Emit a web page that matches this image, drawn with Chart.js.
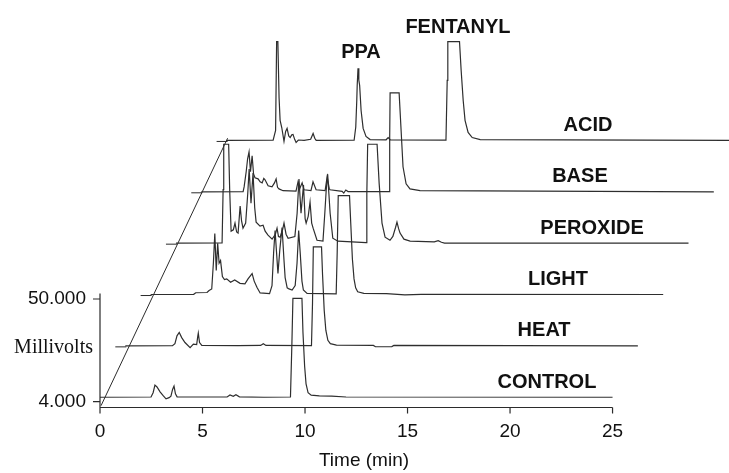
<!DOCTYPE html>
<html>
<head>
<meta charset="utf-8">
<script src="https://cdn.jsdelivr.net/npm/chart.js@4.4.1/dist/chart.umd.min.js"></script>
<style>
  html, body { margin: 0; padding: 0; background: #fff; }
  canvas { display: block; }
</style>
</head>
<body>
<canvas id="chromChart" width="729" height="473"></canvas>
<script>
// stress conditions, bottom to top
const traceNames = ['CONTROL', 'HEAT', 'LIGHT', 'PEROXIDE', 'BASE', 'ACID'];

// [time (min), signal (mV)]; flat tops are detector saturation
const controlTrace = [[0,6.0],[2.49,6.1],[2.59,8.0],[2.68,11.4],[2.78,10.6],[2.93,8.4],[3.07,6.8],[3.22,5.3],[3.37,5.8],[3.46,6.5],[3.54,9.5],[3.61,11.0],[3.68,7.5],[3.76,6.2],[5.0,6.1],[6.2,6.1],[6.34,7.0],[6.5,6.4],[6.63,7.1],[6.8,6.2],[8.0,6.0],[9.29,6.1],[9.36,30],[9.41,50.3],[9.85,50.3],[9.9,35],[9.98,20],[10.05,12],[10.15,8],[10.3,6.9],[10.7,6.6],[11.3,6.5],[12.0,6.1],[25.0,6.0]];
const heatTrace = [[0,6.0],[2.3,6.1],[2.42,7.0],[2.52,10.5],[2.63,12.0],[2.75,9.7],[2.91,7.5],[3.16,5.2],[3.32,6.8],[3.48,6.6],[3.53,10],[3.56,11.7],[3.62,7.5],[3.73,6.2],[5.5,6.1],[6.6,6.2],[6.73,7.0],[6.86,6.2],[9.08,6.1],[9.13,25],[9.17,50.3],[9.57,50.3],[9.62,38],[9.7,22],[9.78,13],[9.88,8.5],[10.0,7.0],[10.3,6.3],[12.1,6.2],[12.2,5.6],[13.0,5.7],[13.1,6.2],[25.0,6.0]];
const lightTrace = [[0,6.0],[2.1,6.1],[2.2,6.8],[2.75,6.9],[2.85,7.8],[2.98,8.5],[3.06,20],[3.13,33.3],[3.2,16.8],[3.27,28.9],[3.34,20],[3.41,21.2],[3.5,14],[3.6,12.7],[3.71,13],[3.9,11.5],[4.1,12.5],[4.36,11],[4.6,10.8],[4.75,13],[4.95,15.4],[5.05,12],[5.19,9.1],[5.34,6.7],[5.8,6.4],[5.92,10],[6.0,25],[6.07,34.7],[6.14,25],[6.21,15.4],[6.3,26],[6.41,36],[6.5,22],[6.56,13.6],[6.66,9],[6.75,8.5],[6.9,8],[7.05,10],[7.14,20],[7.22,34.7],[7.3,24],[7.38,12],[7.45,8],[7.63,6.5],[9.05,6.3],[9.1,25],[9.15,50.3],[9.7,50.3],[9.76,38],[9.84,22],[9.92,13],[10.0,9],[10.1,7.2],[10.4,6.5],[11.5,6.4],[12.4,5.8],[13.2,6.1],[25.0,6.0]];
const peroxideTrace = [[0,6.0],[2.25,6.1],[2.3,30],[2.33,50.3],[2.57,50.3],[2.62,30],[2.69,11.4],[2.8,12],[2.88,15],[2.96,11],[3.03,10.5],[3.13,22.6],[3.2,16],[3.27,12.7],[3.4,15],[3.5,28],[3.57,39.2],[3.66,23.9],[3.76,37.4],[3.84,22],[3.91,15.4],[4.1,13.6],[4.25,14],[4.35,11.4],[4.49,9.6],[4.69,7.8],[4.85,10],[4.93,12.7],[5.0,9],[5.08,8.7],[5.2,12],[5.27,15],[5.37,10],[5.47,8.2],[5.8,9],[5.91,19.4],[6.0,34.7],[6.1,19.4],[6.22,32],[6.3,17],[6.35,15],[6.45,18],[6.54,24.4],[6.62,15],[6.69,12.7],[6.88,7.3],[7.17,6.9],[7.26,19.4],[7.33,30],[7.4,36.9],[7.46,28],[7.52,19.4],[7.65,8.2],[7.9,6.9],[9.27,6.2],[9.31,28],[9.35,50.3],[9.81,50.3],[9.91,32.9],[10.05,15],[10.2,8.7],[10.44,7.3],[10.58,9],[10.71,13],[10.78,15.4],[10.86,12.5],[10.93,10.5],[11.12,7.8],[11.42,6.9],[12.6,6.6],[12.79,7.1],[12.95,6.4],[13.1,6.0],[25.0,6.0]];
const baseTrace = [[0,6.0],[2.04,6.1],[2.09,8.2],[2.19,15],[2.26,20.8],[2.33,23.9],[2.4,15],[2.48,22.1],[2.55,14],[2.62,12.3],[2.77,11.8],[2.87,10.5],[2.97,10],[3.05,12],[3.11,11.4],[3.26,8.7],[3.45,8.2],[3.57,10],[3.65,11.8],[3.72,8.0],[3.79,7.3],[3.99,6.5],[4.62,6.3],[4.72,10.5],[4.82,7.8],[4.92,10],[5.01,6.9],[5.35,6.5],[5.45,10.5],[5.6,6.9],[6.04,6.5],[6.14,12.7],[6.24,7.5],[6.28,6.9],[6.87,6.2],[6.95,5.4],[7.05,6.8],[7.16,6.1],[9.16,6.1],[9.19,30],[9.21,50.3],[9.65,50.3],[9.75,32.9],[9.84,17.2],[9.99,9.6],[10.18,7.3],[10.67,6.5],[25.0,6.0]];
const acidTrace = [[0,6.0],[2.27,6.1],[2.39,10.5],[2.44,50.3],[2.5,50.3],[2.56,25],[2.61,15],[2.69,11.8],[2.8,5.6],[2.88,10],[2.95,11.4],[3.03,8],[3.1,7.3],[3.18,8.5],[3.24,8.7],[3.32,6.5],[3.39,5.1],[3.5,6.2],[3.78,6.0],[4.1,6.5],[4.22,9.1],[4.3,7],[4.37,6.0],[6.22,6.1],[6.3,12],[6.35,24],[6.37,30.6],[6.41,38.3],[6.45,33],[6.49,30.6],[6.56,19.4],[6.66,11.4],[6.8,7.8],[7.0,6.4],[7.78,6.3],[7.88,7.3],[7.98,6.3],[10.7,6.1],[10.76,32.9],[10.79,50.3],[11.36,50.3],[11.44,37.4],[11.54,23.9],[11.63,15],[11.78,9.6],[11.98,7.3],[12.37,6.4],[25.0,6.0]];

const traces = [controlTrace, heatTrace, lightTrace, peroxideTrace, baseTrace, acidTrace];

const xTicks = [0, 5, 10, 15, 20, 25];
const yTicks = [4, 50];
const yTickLabels = ['4.000', '50.000'];
const peakLabels = ['PPA', 'FENTANYL'];

// waterfall: every run is drawn shifted right (min) and up (mV) from the one below
const shiftX = 1.235;
const shiftY = 23;
const baseLevel = 6;

// where the text sits: trace labels by time, peak labels by time/mV of the top run
const traceLabelX = [21.8, 21.66, 22.34, 24.0, 23.41, 23.8];
const peakLabelPos = [[12.73, 160.6], [17.46, 171.8]];

const sans = '"Liberation Sans", Arial, sans-serif';
const serif = '"Liberation Serif", "Times New Roman", serif';

const decorations = {
    id: 'decorations',
    afterDraw(chart) {
        const {ctx} = chart;
        const x = chart.scales.x;
        const y = chart.scales.y;
        const x0 = x.getPixelForValue(0);
        const yb = y.getPixelForValue(y.min);

        ctx.save();
        ctx.strokeStyle = '#2b2b2b';
        ctx.lineWidth = 1.2;
        ctx.beginPath();
        // x axis only runs over 0..25 min
        ctx.moveTo(x0, yb);
        ctx.lineTo(x.getPixelForValue(25), yb);
        xTicks.forEach(t => {
            const px = x.getPixelForValue(t);
            ctx.moveTo(px, yb);
            ctx.lineTo(px, yb + 6);
        });
        // y axis
        ctx.moveTo(x0, y.getPixelForValue(52.5));
        ctx.lineTo(x0, yb);
        yTicks.forEach(v => {
            const py = y.getPixelForValue(v);
            ctx.moveTo(x0 - 7, py);
            ctx.lineTo(x0, py);
        });
        ctx.stroke();

        // offset line joining the start of every run
        ctx.lineWidth = 1;
        ctx.beginPath();
        ctx.moveTo(x.getPixelForValue(0.05), y.getPixelForValue(2.2));
        ctx.lineTo(x.getPixelForValue(5 * shiftX + 0.05), y.getPixelForValue(baseLevel + 5 * shiftY + 1));
        // little baseline marks at each run's start
        for (let i = 1; i < traces.length; i++) {
            const px = x.getPixelForValue(i * shiftX);
            const py = y.getPixelForValue(baseLevel + i * shiftY) + 1;
            ctx.moveTo(px - 10, py);
            ctx.lineTo(px + 1, py);
        }
        ctx.stroke();

        ctx.fillStyle = '#111';
        ctx.textBaseline = 'middle';

        ctx.font = '19px ' + sans;
        ctx.textAlign = 'center';
        xTicks.forEach(t => ctx.fillText(String(t), x.getPixelForValue(t), yb + 24));
        ctx.fillText('Time (min)', 364, 461);

        ctx.textAlign = 'right';
        yTicks.forEach((v, i) => ctx.fillText(yTickLabels[i], x0 - 14, y.getPixelForValue(v)));

        ctx.font = '20px ' + serif;
        ctx.fillText('Millivolts', x0 - 7, 348);

        ctx.font = 'bold 20px ' + sans;
        ctx.textAlign = 'center';
        traceNames.forEach((name, i) => {
            const py = y.getPixelForValue(baseLevel + i * shiftY) - 15;
            ctx.fillText(name, x.getPixelForValue(traceLabelX[i]), py);
        });
        peakLabels.forEach((name, i) => {
            const [t, v] = peakLabelPos[i];
            ctx.fillText(name, x.getPixelForValue(t), y.getPixelForValue(v));
        });
        ctx.restore();
    }
};

const datasets = traces.map((trace, i) => ({
    label: traceNames[i],
    data: trace.map(([t, v]) => ({x: t + i * shiftX, y: v + i * shiftY})),
    borderColor: '#2e2e2e',
    borderWidth: 1.2,
    pointRadius: 0,
    tension: 0,
    fill: false
}));

new Chart(document.getElementById('chromChart').getContext('2d'), {
    type: 'line',
    data: {datasets},
    options: {
        responsive: false,
        animation: false,
        devicePixelRatio: 1,
        layout: {padding: {left: 100, right: 0, top: 0, bottom: 65.5}},
        plugins: {legend: {display: false}, tooltip: {enabled: false}},
        scales: {
            x: {type: 'linear', min: 0, max: 30.68, display: false},
            y: {type: 'linear', min: 1.4, max: 183.9, display: false}
        }
    },
    plugins: [decorations]
});
</script>
</body>
</html>
